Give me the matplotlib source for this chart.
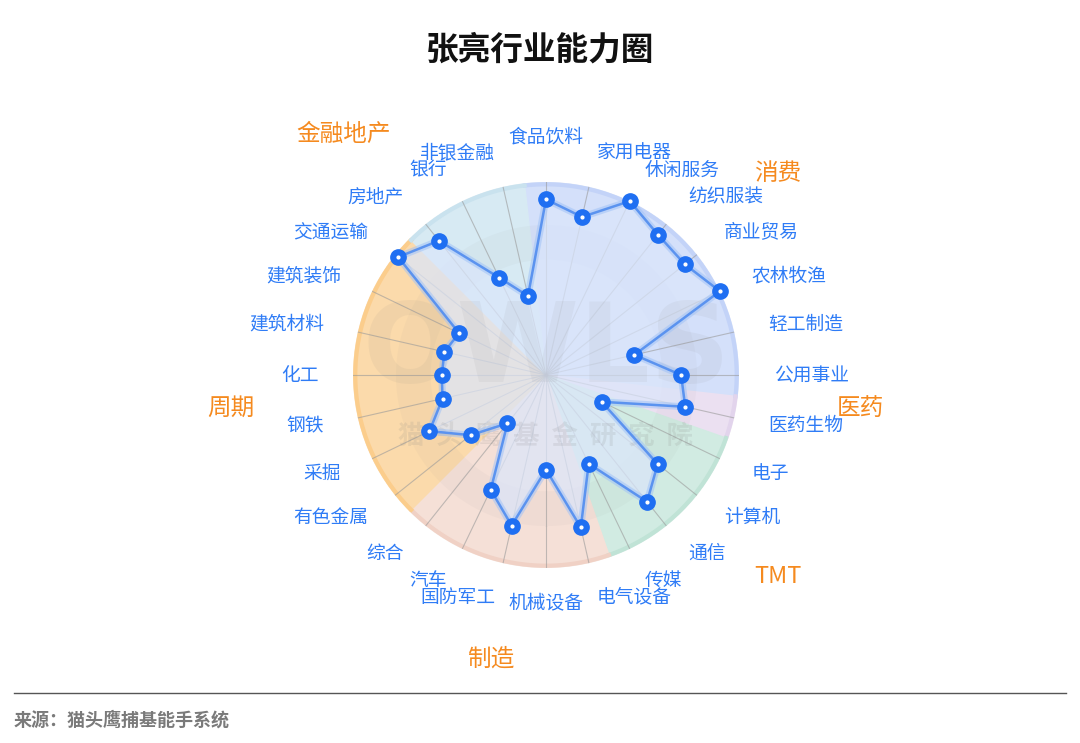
import numpy as np
import matplotlib.pyplot as plt

plt.rcParams['font.family'] = ['Noto Sans CJK SC', 'DejaVu Sans']

industries = ["食品饮料", "家用电器", "休闲服务", "纺织服装", "商业贸易", "农林牧渔", "轻工制造",
              "公用事业", "医药生物", "电子", "计算机", "通信", "传媒", "电气设备", "机械设备",
              "国防军工", "汽车", "综合", "有色金属", "采掘", "钢铁", "化工", "建筑材料",
              "建筑装饰", "交通运输", "房地产", "银行", "非银金融"]
scores = [91, 84, 100, 93, 92, 100, 47, 70, 74, 32, 74, 84, 51, 81, 49,
          80, 66, 32, 50, 67, 55, 54, 54, 50, 98, 89, 56, 42]

groups = ["消费", "医药", "TMT", "制造", "周期", "金融地产"]
group_sizes = [8, 1, 4, 5, 7, 3]

# styles
group_fill = ["#d4e0fa", "#ebe0f1", "#d1ebe2", "#f5e0d7", "#fbdaab", "#d7eaf3"]
group_edge = ["#c3d3f8", "#e2d4ec", "#c0e3d6", "#f0d1c5", "#fbcd8c", "#c9e2ee"]
# group label placement: (compass angle deg, radius in axis units)
group_label_pos = [(49, 159), (96, 164), (131, 159), (191, 150), (264, 164), (320, 163)]

W, H = 1080, 743
fig = plt.figure(figsize=(W / 100, H / 100), dpi=100, facecolor="white")

cx, cy, R = 546, 375, 193
ax = fig.add_axes([(cx - R) / W, (H - cy - R) / H, 2 * R / W, 2 * R / H], projection="polar")
ax.set_theta_zero_location("N")
ax.set_theta_direction(-1)
ax.set_ylim(0, 100)
ax.axis("off")

n = len(industries)
step = 2 * np.pi / n
theta = np.arange(n) * step

# background sectors per group
start = 0
for g, size in enumerate(group_sizes):
    t = np.linspace((start - 0.5) * step, (start + size - 0.5) * step, 60)
    tt = np.concatenate([[t[0]], t, [t[-1]]])
    rr = np.concatenate([[0], np.full(len(t), 100), [0]])
    ax.fill(tt, rr, color=group_fill[g], zorder=1)
    ax.plot(t, np.full(len(t), 98.8), color=group_edge[g], lw=3, zorder=2)
    start += size

# faint ring band
tc = np.linspace(0, 2 * np.pi, 200)
ax.fill_between(tc, 60, 78, color="#8a8a8a", alpha=0.05, lw=0, zorder=2)

# spokes
for t in theta:
    ax.plot([t, t], [0, 100], color="#9a9a9a", lw=0.8, alpha=0.6, zorder=3)

# watermark
ax.text(0.5, 0.56, "OWLS", fontsize=80, fontweight="bold", color="#808080", alpha=0.08,
        ha="center", va="center", family="DejaVu Sans", zorder=4.5, transform=ax.transAxes)
ax.text(0.5, 0.34, "猫  头  鹰  基  金  研  究  院", fontsize=19, transform=ax.transAxes,
        color="#808080", alpha=0.14, ha="center", va="center", fontweight="bold", zorder=4.5)

# radar
tl = np.append(theta, theta[0])
vl = np.append(scores, scores[0])
ax.fill(tl, vl, color="#dbe6fb", alpha=0.72, zorder=4)
ax.plot(tl, vl, color="#9cc0f7", lw=5, alpha=0.5, zorder=5)
ax.plot(tl, vl, color="#5b93ef", lw=1.8, zorder=6)
ax.plot(theta, scores, "o", ms=11, color="#1f6ff2", zorder=7, clip_on=False)
ax.plot(theta, scores, "o", ms=2, color="white", zorder=8, clip_on=False)

# indicator labels
for t, name in zip(theta, industries):
    s = np.sin(t)
    if s > 0.01:
        ha = "left"
    elif s < -0.01:
        ha = "right"
    else:
        ha = "center"
    va = "bottom" if np.cos(t) > 0.99 else "center"
    ax.text(t, 118, name, color="#2f7cf6", fontsize=13.5, ha=ha, va=va, clip_on=False)

# group labels
for name, (ang, r) in zip(groups, group_label_pos):
    ax.text(np.deg2rad(ang), r, name, color="#f58a1f", fontsize=17, ha="center",
            va="center", clip_on=False)

fig.text(0.5, 1 - 50 / H, "张亮行业能力圈", fontsize=23.5, fontweight="bold",
         ha="center", va="center", color="#111111")
fig.add_artist(plt.Line2D([14 / W, 1066 / W], [1 - 693 / H, 1 - 693 / H],
                          color="#555555", lw=1))
fig.text(14 / W, 1 - 720 / H, "来源：猫头鹰捕基能手系统", fontsize=13, fontweight="bold",
         ha="left", va="center", color="#7a7a7a")

fig.savefig("out.png", dpi=100, facecolor="white")
